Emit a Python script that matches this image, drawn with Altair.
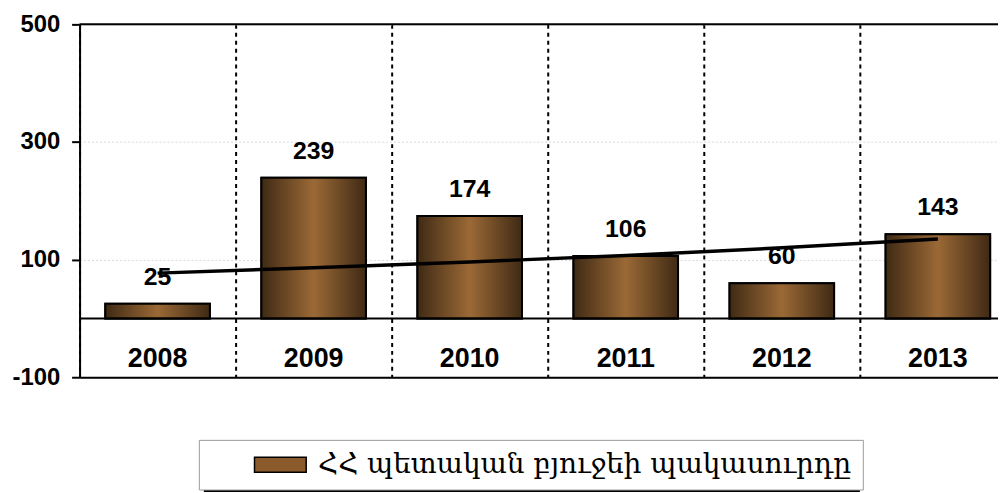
import altair as alt
import pandas as pd

years = ["2008", "2009", "2010", "2011", "2012", "2013"]
deficit = [25, 239, 174, 106, 60, 143]
trend = [77, 86, 96, 107, 120, 135]
y_ticks = [500, 300, 100, -100]
ref_lines = [0, 500]
series_name = "ՀՀ պետական բյուջեի պակասուրդը"

df = pd.DataFrame({"year": years, "value": deficit, "trend": trend, "series": series_name})
refs = pd.DataFrame({"y": ref_lines})
deco = pd.DataFrame({"k": [1]})

FONT = "Liberation Sans"

x_scale = alt.Scale(domain=years, range=[0, 942], paddingInner=0, paddingOuter=0)
y_scale = alt.Scale(domain=[-100, 500], nice=False, zero=False)

x_axis = alt.Axis(
    title=None, bandPosition=0, grid=True, gridColor="black", gridDash=[4, 4], gridWidth=2,
    ticks=False, tickSize=0, labelPadding=-11, labelBaseline="alphabetic",
    labelFont=FONT, labelFontSize=27, labelFontWeight="bold", labelColor="black",
    domainColor="black", domainWidth=2, labelAngle=0,
)
y_axis = alt.Axis(
    title=None, values=y_ticks, grid=True, gridColor="#d9d9d9", gridDash=[2, 2], gridWidth=1,
    tickSize=8, tickWidth=2, tickColor="black", labelPadding=12,
    labelExpr="'' + datum.value",
    labelFont=FONT, labelFontSize=24, labelFontWeight="bold", labelColor="black",
    domainColor="black", domainWidth=2,
)

base = alt.Chart(df)

# legend shadow (decoration behind the legend box)
shadow = alt.Chart(deco).mark_rect(color="black").encode(
    x=alt.value(125), x2=alt.value(785), y=alt.value(423), y2=alt.value(472)
)

legend_bars = base.mark_bar(width=alt.RelativeBandSize(0.67), stroke="black", strokeWidth=2).encode(
    x=alt.X("year:N", scale=x_scale, axis=x_axis, sort=years),
    y=alt.Y("value:Q", scale=y_scale, axis=y_axis),
    color=alt.Color(
        "series:N", scale=alt.Scale(range=["#8a5a2b"]),
        legend=alt.Legend(
            title=None, orient="none", legendX=120, legendY=418,
            symbolType="M-2,-0.58H2V0.58H-2Z", symbolSize=676,
            symbolStrokeColor="black", symbolStrokeWidth=1.5, symbolOffset=57,
            labelFont="DejaVu Serif", labelFontSize=28, labelColor="black", labelOffset=24,
            labelLimit=0, padding=11, strokeColor="#999999", fillColor="white",
        ),
    ),
)

grad = alt.Gradient(
    gradient="linear", x1=0, x2=1, y1=0, y2=0,
    stops=[
        alt.GradientStop(offset=0, color="#3f2a14"),
        alt.GradientStop(offset=0.5, color="#9b6936"),
        alt.GradientStop(offset=1, color="#3f2a14"),
    ],
)
bars = base.mark_bar(width=alt.RelativeBandSize(0.67), fill=grad, stroke="black", strokeWidth=2).encode(
    x=alt.X("year:N", sort=years),
    y=alt.Y("value:Q"),
)

rules = alt.Chart(refs).mark_rule(color="black", strokeWidth=2).encode(y="y:Q")

line = base.mark_line(color="black", strokeWidth=3.5).encode(
    x=alt.X("year:N", sort=years),
    y=alt.Y("trend:Q"),
)

labels = base.mark_text(
    font=FONT, fontSize=25, fontWeight="bold", color="black", baseline="alphabetic", dy=-19
).encode(
    x=alt.X("year:N", sort=years),
    y=alt.Y("value:Q"),
    text="value:Q",
)

chart = alt.layer(legend_bars, bars, rules, line, labels, shadow).properties(
    width=924, height=355,
    autosize=alt.AutoSizeParams(type="none"),
    padding={"left": 72, "top": 15, "right": 0, "bottom": 114},
).configure_view(stroke=None).configure(background="white")

chart.save("out.html", embed_options={"renderer": "svg", "actions": False})
